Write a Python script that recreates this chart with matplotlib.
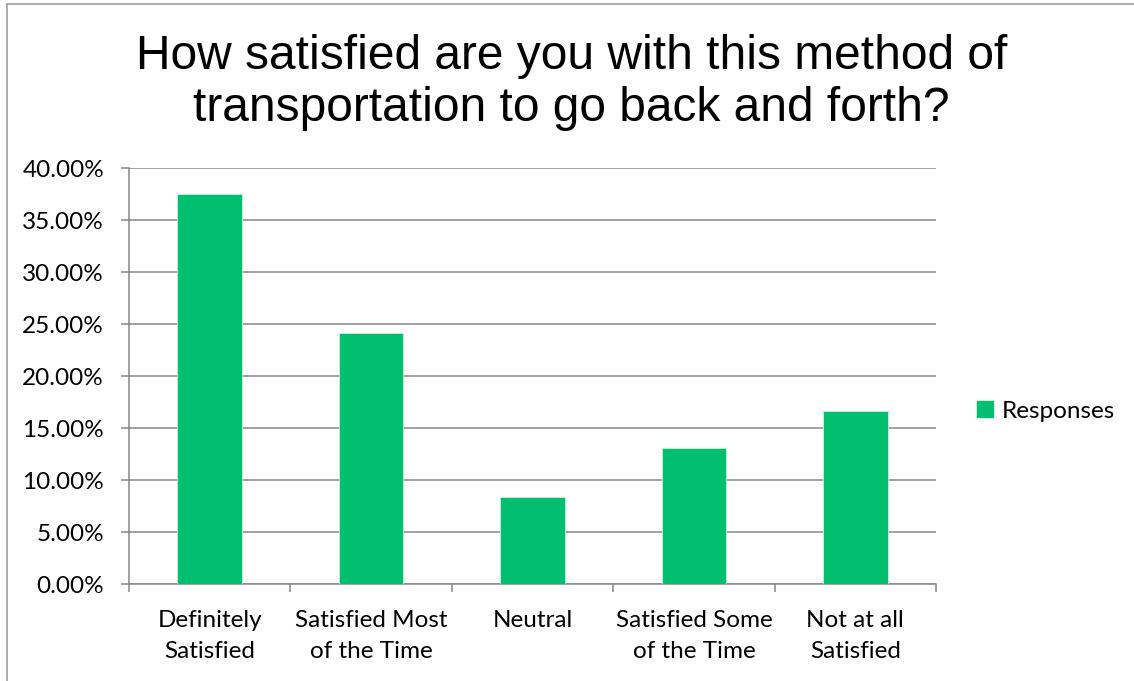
import matplotlib
matplotlib.use("Agg")
import matplotlib.pyplot as plt
import matplotlib.ticker as ticker
from matplotlib.lines import Line2D
from matplotlib.patches import Patch

# survey data (percent of responses)
categories = [
    "Definitely\nSatisfied",
    "Satisfied Most\nof the Time",
    "Neutral",
    "Satisfied Some\nof the Time",
    "Not at all\nSatisfied",
]
responses = [37.5, 24.17, 8.33, 13.1, 16.67]
y_ticks = [0, 5, 10, 15, 20, 25, 30, 35, 40]

bar_color = "#00BF6F"
grid_color = "#878787"
label_font = "Lato"


def main():
    fig = plt.figure(figsize=(11.34, 6.81), dpi=100)
    ax = fig.add_axes([0.1138, 0.1424, 0.7116, 0.6109])

    x = list(range(len(categories)))
    ax.bar(x, responses, width=0.4, color=bar_color, edgecolor="#c8f0dc",
           linewidth=0.6, zorder=3, label="Responses")

    ax.set_xlim(-0.5, len(categories) - 0.5)
    ax.set_ylim(0, 40)
    ax.set_yticks(y_ticks)
    ax.yaxis.set_major_formatter(ticker.FuncFormatter(lambda v, p: f"{v:.2f}%"))
    ax.yaxis.grid(True, color=grid_color, linewidth=1.1, zorder=0)
    ax.set_axisbelow(True)

    # category labels at the centres, tick marks between categories
    ax.set_xticks(x)
    ax.set_xticklabels(categories, fontsize=17.5, family=label_font, linespacing=1.55)
    ax.set_xticks([i - 0.5 for i in range(len(categories) + 1)], minor=True)
    ax.tick_params(axis="x", which="major", length=0, pad=19)
    ax.tick_params(axis="x", which="minor", length=6, color=grid_color, width=1.1)
    ax.tick_params(axis="y", length=6, color=grid_color, width=1.1, pad=12,
                   labelsize=17.5)
    for lab in ax.get_yticklabels():
        lab.set_family(label_font)

    for side in ["top", "right"]:
        ax.spines[side].set_visible(False)
    for side in ["left", "bottom"]:
        ax.spines[side].set_color(grid_color)
        ax.spines[side].set_linewidth(1.1)

    fig.text(0.504, 0.95, "How satisfied are you with this method of\ntransportation to go back and forth?",
             ha="center", va="top", fontsize=34.5, family="Liberation Sans",
             linespacing=1.2)

    handle = Patch(facecolor=bar_color, edgecolor=bar_color)
    fig.legend([handle], ["Responses"], loc="center left",
               bbox_to_anchor=(0.842, 0.396), frameon=False,
               prop={"family": label_font, "size": 17.5},
               handlelength=0.65, handleheight=0.65, handletextpad=0.4)

    # outer chart frame (only top and left edges visible in the crop)
    fig.add_artist(Line2D([7 / 1134, 7 / 1134], [0, 1 - 4 / 681],
                          transform=fig.transFigure, color="#a0a0a0", linewidth=1.2))
    fig.add_artist(Line2D([7 / 1134, 1], [1 - 4 / 681, 1 - 4 / 681],
                          transform=fig.transFigure, color="#a0a0a0", linewidth=1.2))

    fig.savefig("out.png", dpi=100, facecolor="white")


if __name__ == "__main__":
    main()
